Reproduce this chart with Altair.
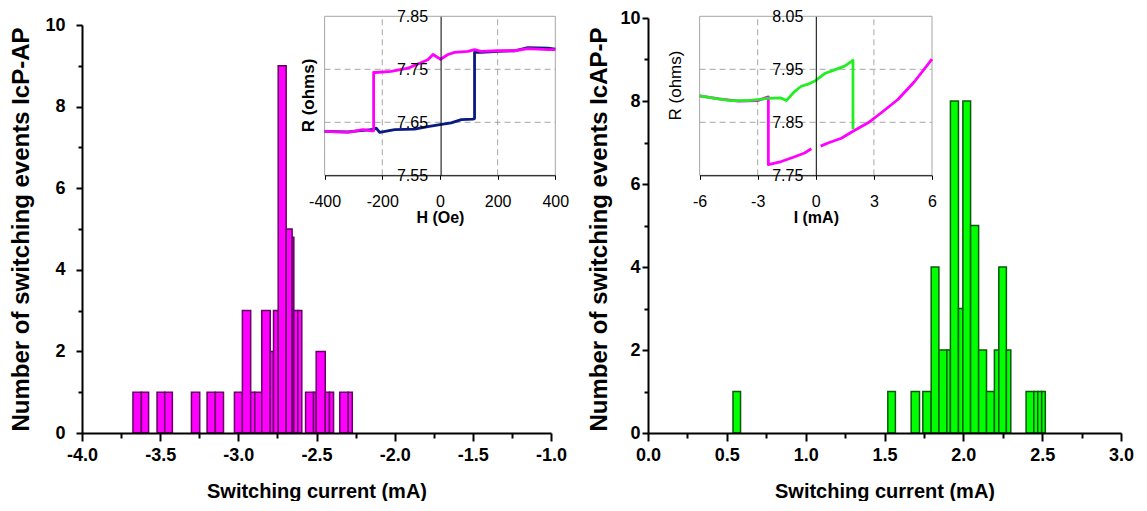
import altair as alt
import pandas as pd

FONT = "Liberation Sans"

# ---------------- main histograms (visible bar segments) ----------------
left_start = [-3.674, -3.620, -3.520, -3.471, -3.300, -3.200, -3.147, -3.025, -2.974, -2.921,
              -2.895, -2.850, -2.796, -2.775, -2.745, -2.694, -2.656, -2.645, -2.620, -2.570,
              -2.519, -2.502, -2.444, -2.417, -2.351, -2.297]
left_end = [-3.620, -3.574, -3.471, -3.422, -3.247, -3.147, -3.095, -2.974, -2.921, -2.895,
            -2.850, -2.796, -2.775, -2.745, -2.694, -2.656, -2.645, -2.620, -2.594, -2.519,
            -2.502, -2.444, -2.417, -2.391, -2.297, -2.271]
left_count = [1, 1, 1, 1, 1, 1, 1, 1, 3, 1, 1, 3, 2, 3, 9, 5, 4.8, 3, 3, 1, 1, 2, 1, 1, 1, 1]

right_start = [0.539, 1.521, 1.669, 1.743, 1.796, 1.845, 1.895, 1.918, 1.969, 1.997,
               2.046, 2.097, 2.147, 2.197, 2.225, 2.273, 2.398, 2.447, 2.472, 2.497]
right_end = [0.587, 1.569, 1.722, 1.796, 1.845, 1.895, 1.918, 1.969, 1.997, 2.046,
             2.097, 2.147, 2.197, 2.225, 2.273, 2.301, 2.447, 2.472, 2.497, 2.520]
right_count = [1, 1, 1, 1, 4, 2, 2, 8, 3, 8, 5, 2, 1, 2, 4, 2, 1, 1, 1, 1]

left_major = [-4.0, -3.5, -3.0, -2.5, -2.0, -1.5, -1.0]
left_minor = [-3.75, -3.25, -2.75, -2.25, -1.75, -1.25]
right_major = [0.0, 0.5, 1.0, 1.5, 2.0, 2.5, 3.0]
right_minor = [0.25, 0.75, 1.25, 1.75, 2.25, 2.75]
count_major = [0, 2, 4, 6, 8, 10]
count_minor = [1, 3, 5, 7, 9]

# ---------------- inset 1: R vs H ----------------
h_mag = [400, 374, 305, 259, 200, 143, 120, 97, 51, 28, 2, -24, -42, -111, -169, -224, -230, -230,
         -238, -267, -319, -400]
r_mag = [7.787, 7.787, 7.789, 7.785, 7.785, 7.784, 7.787, 7.784, 7.782, 7.778, 7.769, 7.778, 7.768,
         7.752, 7.746, 7.744, 7.744, 7.634, 7.634, 7.636, 7.631, 7.633]
h_navy = [-400, -319, -238, -221, -209, -157, -88, -42, 5, 39, 74, 114, 120, 120, 143, 201, 259,
          305, 374, 400]
r_navy = [7.633, 7.632, 7.636, 7.639, 7.631, 7.636, 7.637, 7.642, 7.646, 7.649, 7.655, 7.656, 7.657,
          7.782, 7.782, 7.784, 7.785, 7.791, 7.790, 7.788]
h_ticks = [-400, -200, 0, 200, 400]
r1_ticks = [7.55, 7.65, 7.75, 7.85]
h_grid = [-200, 200]
r1_grid = [7.65, 7.75]

# ---------------- inset 2: R vs I ----------------
i_green = [-6, -5.2, -4.4, -3.5, -2.5, -1.8, -1.52, -1.1, -0.75, -0.4, 0, 0.46, 0.97, 1.49, 1.92, 1.92]
r_green = [7.900, 7.895, 7.891, 7.891, 7.895, 7.896, 7.891, 7.908, 7.918, 7.922, 7.929, 7.942,
           7.949, 7.956, 7.967, 7.837]
i_mag_a = [-6, -5, -4, -3, -2.45, -2.45, -1.78, -1.09, -0.58, -0.23]
r_mag_a = [7.900, 7.894, 7.890, 7.891, 7.898, 7.770, 7.776, 7.785, 7.792, 7.800]
i_mag_b = [0.25, 0.63, 1.32, 1.92, 2.70, 3.38, 4.24, 5.10, 6.0]
r_mag_b = [7.805, 7.811, 7.820, 7.833, 7.849, 7.868, 7.893, 7.927, 7.969]
i_ticks = [-6, -3, 0, 3, 6]
r2_ticks = [7.75, 7.85, 7.95, 8.05]
i_grid = [-3, 3]
r2_grid = [7.85, 7.95]

H = 415
HYPHEN = "replace(datum.label, '\u2212', '-')"


def main_x_axis(vals):
    return alt.Axis(values=vals, orient="bottom", offset=0, title="Switching current (mA)",
                    format=".1f", labelExpr=HYPHEN, tickSize=8, tickWidth=2, domainWidth=2,
                    labelPadding=5, labelFont=FONT, labelFontSize=18, labelFontWeight="bold",
                    labelFlush=False, labelOverlap=False, labelBound=False,
                    titleFont=FONT, titleFontSize=20, titleFontWeight="bold", titlePadding=17,
                    zindex=1)


def main_y_axis(title, offset, pad, tx):
    return alt.Axis(values=count_major, orient="left", offset=offset, title=title,
                    format="d", tickSize=6, tickWidth=2, domainWidth=2, labelPadding=pad,
                    labelFont=FONT, labelFontSize=18, labelFontWeight="bold",
                    labelFlush=False, labelOverlap=False, labelBound=False,
                    titleFont=FONT, titleFontSize=24, titleFontWeight="bold",
                    titleAngle=270, titleX=tx, titleY=211, titleAlign="center",
                    titleBaseline="middle", zindex=1)


def minor_axis(vals, orient, offset, size):
    return alt.Axis(values=vals, orient=orient, offset=offset, title=None, labels=False,
                    domain=False, tickSize=size, tickWidth=2, zindex=1)


def hist(start, end, count, xdom, xrange, yrange, fill, stroke, xax, yax, opacity=1.0):
    df = pd.DataFrame({"x0": start, "x1": end, "n": count})
    return alt.Chart(df).mark_rect(fill=fill, stroke=stroke, strokeWidth=1.5, opacity=opacity).encode(
        x=alt.X("x0:Q", scale=alt.Scale(domain=xdom, range=xrange, nice=False, zero=False), axis=xax),
        x2="x1:Q",
        y=alt.Y("n:Q", scale=alt.Scale(domain=[0, 10], range=yrange, nice=False, zero=False), axis=yax),
        y2=alt.datum(0),
    )


def inset(xdom, xrange, ydom, yrange, xticks, yticks, xgrid, ygrid, xtitle, ytitle,
          yaxis_x, ytitle_x, ytitle_y, ytitle_weight, curves):
    def xs():
        return alt.Scale(domain=xdom, range=xrange, nice=False, zero=False)

    def ys():
        return alt.Scale(domain=ydom, range=yrange, nice=False, zero=False)

    xax = alt.Axis(values=xticks, orient="bottom", offset=yrange[0] - H, title=xtitle,
                   format="d", labelExpr=HYPHEN, tickSize=4, tickWidth=1, domainWidth=1,
                   labelPadding=14, labelFont=FONT, labelFontSize=16, labelFontWeight="normal",
                   labelFlush=False, labelOverlap=False,
                   labelBound=False, titleFont=FONT, titleFontSize=16, titleFontWeight="bold",
                   titlePadding=0, zindex=2)
    yax = alt.Axis(values=yticks, orient="left", offset=-yaxis_x, title=ytitle, format=".2f",
                   ticks=False, domainWidth=1, labelPadding=13,
                   labelFont=FONT, labelFontSize=16, labelFontWeight="normal",
                   labelFlush=False, labelOverlap=False,
                   labelBound=False, titleFont=FONT, titleFontSize=17, titleFontWeight=ytitle_weight,
                   titleAngle=270, titleX=ytitle_x, titleY=ytitle_y, titleAlign="center",
                   titleBaseline="middle", zindex=2)
    vgrid = alt.Chart(pd.DataFrame({"g": xgrid})).mark_rule(
        color="#a6a6a6", strokeWidth=1, strokeDash=[6, 4]).encode(
        x=alt.X("g:Q", scale=xs(), axis=None),
        y=alt.YDatum(ydom[0], type="quantitative", scale=ys(), axis=None),
        y2=alt.datum(ydom[1]),
    )
    hgrid = alt.Chart(pd.DataFrame({"g": ygrid})).mark_rule(
        color="#a6a6a6", strokeWidth=1, strokeDash=[6, 4]).encode(
        y=alt.Y("g:Q", scale=ys(), axis=None),
        x=alt.XDatum(xdom[0], type="quantitative", scale=xs(), axis=None),
        x2=alt.datum(xdom[1]),
    )
    # frame of the inset; carries the inset axes
    frame = alt.Chart(pd.DataFrame({"t": xticks[:1]})).mark_rect(
        fillOpacity=0, stroke="#a6a6a6", strokeWidth=1).encode(
        x=alt.XDatum(xdom[0], type="quantitative", scale=xs(), axis=xax),
        x2=alt.datum(xdom[1]),
        y=alt.YDatum(ydom[0], type="quantitative", scale=ys(), axis=yax),
        y2=alt.datum(ydom[1]),
    )
    layers = [vgrid, hgrid, frame]
    for xv, yv, seg, color in curves:
        df = pd.DataFrame({"x": xv, "y": yv, "seg": seg, "i": list(range(len(xv)))})
        layers.append(alt.Chart(df).mark_line(color=color, strokeWidth=2.8, strokeJoin="round").encode(
            x=alt.X("x:Q", scale=xs(), axis=None),
            y=alt.Y("y:Q", scale=ys(), axis=None),
            detail="seg:N",
            order="i:Q",
        ))
    return layers


LEFT_X = [0, 469]
RIGHT_X = [566, 1039]

barsL = hist(left_start, left_end, left_count, [-4, -1], LEFT_X, [H, 7], "#ff00ff", "#660066",
             main_x_axis(left_major), main_y_axis("Number of switching events IcP-AP", 0, 11, -61))
minorL = hist(left_start, left_end, left_count, [-4, -1], LEFT_X, [H, 7], "#ff00ff", "#660066",
              minor_axis(left_minor, "bottom", 0, 5), minor_axis(count_minor, "left", 0, 4), opacity=0)
barsR = hist(right_start, right_end, right_count, [0, 3], RIGHT_X, [H, 0], "#00ff00", "#0b5a0b",
             main_x_axis(right_major), main_y_axis("Number of switching events IcAP-P", -566, 2, -49))
minorR = hist(right_start, right_end, right_count, [0, 3], RIGHT_X, [H, 0], "#00ff00", "#0b5a0b",
              minor_axis(right_minor, "bottom", 0, 5), minor_axis(count_minor, "left", -566, 4), opacity=0)

insetL = inset([-400, 400], [242.6, 473.3], [7.55, 7.85], [157.3, -1.7], h_ticks, r1_ticks,
               h_grid, r1_grid, "H (Oe)", "R (ohms)", 358.6, -132.6, 77, "bold",
               [(h_navy, r_navy, ["a"] * len(h_navy), "#0b1a80"),
                (h_mag, r_mag, ["a"] * len(h_mag), "#ff00ff")])
insetR = inset([-6, 6], [617.6, 850.0], [7.75, 8.05], [157.3, -1.7], i_ticks, r2_ticks,
               i_grid, r2_grid, "I (mA)", "R (ohms)", 733.8, -140.5, 67, "normal",
               [(i_mag_a + i_mag_b, r_mag_a + r_mag_b,
                 ["a"] * len(i_mag_a) + ["b"] * len(i_mag_b), "#ff00ff"),
                (i_green, r_green, ["a"] * len(i_green), "#22ee22")])

chart = alt.layer(minorL, barsL, minorR, barsR, *insetL, *insetR).resolve_scale(
    x="independent", y="independent"
).resolve_axis(
    x="independent", y="independent"
).properties(
    width=1040, height=H, padding={"left": 0, "top": 0, "right": 0, "bottom": 0}
).configure_view(strokeWidth=0).configure_axis(
    grid=False, domainColor="black", tickColor="black", labelColor="black", titleColor="black"
)

chart.save("out.html", embed_options={"renderer": "svg", "actions": False})
